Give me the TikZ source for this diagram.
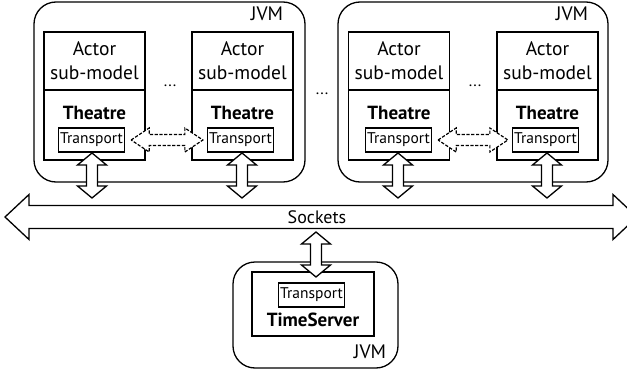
\documentclass[tikz,border=0pt]{standalone}
\usepackage{fontspec}
\setmainfont{PT Sans}
\usetikzlibrary{calc}

% Block double arrow: #2 start tip, #3 end tip, #4 head length,
% #5 half width of the head, #6 half width of the shaft
\newcommand\blockarrow[6][]{%
  \path[#1] (#2)
    -- ($(#2)!#4!(#3)!#5!90:(#3)$) -- ($(#2)!#4!(#3)!#6!90:(#3)$)
    -- ($(#3)!#4!(#2)!#6!-90:(#2)$) -- ($(#3)!#4!(#2)!#5!-90:(#2)$)
    -- (#3)
    -- ($(#3)!#4!(#2)!#5!90:(#2)$) -- ($(#3)!#4!(#2)!#6!90:(#2)$)
    -- ($(#2)!#4!(#3)!#6!-90:(#3)$) -- ($(#2)!#4!(#3)!#5!-90:(#3)$)
    -- cycle;}

\tikzset{
  jvmbox/.style={draw, line width=1.3pt, rounded corners=22pt, minimum width=#1},
  plainbox/.style={draw, line width=1.3pt, inner sep=0pt},
  actorbox/.style={plainbox, minimum width=101pt, minimum height=58pt,
    align=center, font=\fontsize{19.5}{24}\selectfont},
  theatrebox/.style={plainbox, minimum width=101pt, minimum height=70pt},
  transbox/.style={plainbox, minimum width=66pt, minimum height=24pt,
    font=\fontsize{15.5}{17}\selectfont},
  boldlabel/.style={font=\fontsize{19}{22}\selectfont\bfseries, inner sep=0pt},
  jvmlabel/.style={font=\fontsize{19.5}{22}\selectfont, inner sep=0pt},
  dotslabel/.style={font=\fontsize{16}{18}\selectfont, inner sep=0pt},
  solidarrow/.style={draw, fill=white, line width=1.3pt, line join=miter},
  dashedarrow/.style={draw, fill=white, line width=1.2pt, dash pattern=on 3.2pt off 1.6pt},
}

\begin{document}
\begin{tikzpicture}[x=1pt, y=-1pt]
\useasboundingbox (0,0) rectangle (627,372);

% the two JVMs with theatres
\node[jvmbox=271pt, minimum height=180pt] (jvm1) at (169.5,92) {};
\node[jvmbox=270pt, minimum height=180pt] (jvm2) at (473,92) {};
\node[jvmlabel] (jvm1l) at (267,14) {JVM};
\node[jvmlabel] (jvm2l) at (572,14) {JVM};

\foreach \i/\x/\tx in {1/94.5/91.5, 2/242.5/240.5, 3/399/398.5, 4/547.5/545.5} {
  \node[actorbox] (act\i) at (\x,61) {Actor\\sub-model};
  \node[theatrebox] (th\i) at (\x,125) {};
  \node[boldlabel] (thl\i) at (\x,113) {Theatre};
  \node[transbox] (tr\i) at (\tx,140) {Transport};
}

\node[dotslabel] (dots1) at (170,86) {...};
\node[dotslabel] (dots2) at (322,94) {...};
\node[dotslabel] (dots3) at (475,86) {...};

% time server JVM
\node[jvmbox=165pt, minimum height=106pt] (jvm3) at (315.5,315) {};
\node[plainbox, minimum width=122pt, minimum height=64pt] (ts) at (313,304) {};
\node[transbox] (tr5) at (311.5,295) {Transport};
\node[boldlabel] (tsl) at (313,320) {TimeServer};
\node[jvmlabel] (jvm3l) at (370,352) {JVM};

% socket bus
\coordinate (sockL) at (5,217);
\coordinate (sockR) at (637,217);
\blockarrow[solidarrow]{sockL}{sockR}{24pt}{22.5pt}{11.5pt}
\node[jvmlabel, font=\fontsize{18}{20}\selectfont] (sock) at (317,217) {Sockets};

% theatre transports to the sockets
\foreach \i/\x in {1/92, 2/242, 3/398, 4/547} {
  \coordinate (up\i) at (\x,153);
  \coordinate (dn\i) at (\x,198);
  \blockarrow[solidarrow]{up\i}{dn\i}{12pt}{14.5pt}{5.5pt}
}

% sockets to the time server
\coordinate (tsUp) at (316,232);
\coordinate (tsDn) at (316,277);
\blockarrow[solidarrow]{tsUp}{tsDn}{12pt}{14.5pt}{5.5pt}

% direct links between theatres in the same JVM
\coordinate (d1a) at ($(tr1.east)+(6,0)$);
\coordinate (d1b) at ($(tr2.west)+(-4,0)$);
\blockarrow[dashedarrow]{d1a}{d1b}{18pt}{12pt}{5.5pt}
\coordinate (d2a) at ($(tr3.east)+(6,0)$);
\coordinate (d2b) at ($(tr4.west)+(-4,0)$);
\blockarrow[dashedarrow]{d2a}{d2b}{18pt}{12pt}{5.5pt}
\end{tikzpicture}
\end{document}
